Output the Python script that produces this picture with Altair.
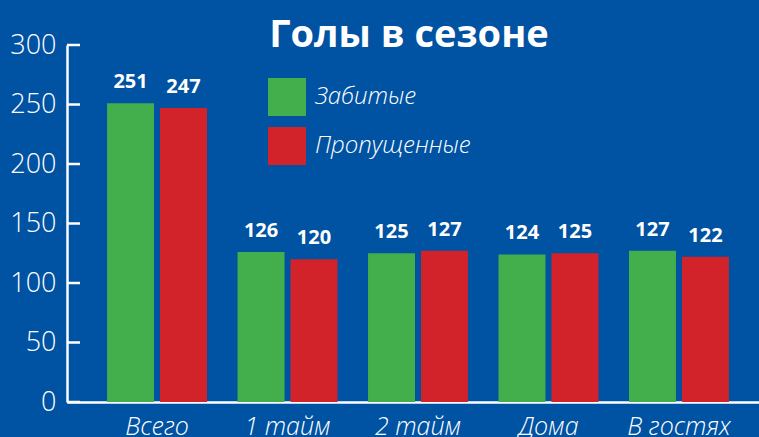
import altair as alt
import pandas as pd

categories = ["Всего", "1 тайм", "2 тайм", "Дома", "В гостях"]
series = ["Забитые", "Пропущенные"]
scored = [251, 126, 125, 124, 127]
conceded = [247, 120, 127, 125, 122]
y_ticks = [0, 50, 100, 150, 200, 250, 300]
colors = ["#43AE4C", "#D2232A"]
title_text = "Голы в сезоне"

rows = []
for c, s, k in zip(categories, scored, conceded):
    rows.append({"cat": c, "series": series[0], "value": s})
    rows.append({"cat": c, "series": series[1], "value": k})
df = pd.DataFrame(rows)
ticks_df = pd.DataFrame({"t": y_ticks})

FONT = "Open Sans"
WHITE = "#FFFFFF"

x_enc = alt.X(
    "cat:N",
    sort=categories,
    scale=alt.Scale(paddingInner=0.234, paddingOuter=0.307),
    axis=alt.Axis(
        title=None, labelAngle=0, labelColor=WHITE, labelFont=FONT,
        labelFontSize=25, labelFontStyle="italic", labelFontWeight=300,
        labelPadding=12, ticks=False, domainColor=WHITE, domainWidth=2.5,
        labelBaseline="top",
    ),
)
xoff_enc = alt.XOffset("series:N", sort=series,
                       scale=alt.Scale(paddingInner=0.113, paddingOuter=0))
y_enc = alt.Y(
    "value:Q",
    scale=alt.Scale(domain=[0, 300], nice=False),
    axis=alt.Axis(
        title=None, values=y_ticks, tickSize=0, labelPadding=11,
        labelColor=WHITE, labelFont=FONT, labelFontSize=27, labelFontWeight=300,
        domainColor=WHITE, domainWidth=2.5, grid=False,
    ),
)

base = alt.Chart(df)

bars = base.mark_bar().encode(
    x=x_enc,
    xOffset=xoff_enc,
    y=y_enc,
    color=alt.Color(
        "series:N",
        sort=series,
        scale=alt.Scale(domain=series, range=colors),
        legend=alt.Legend(
            title=None, orient="none", legendX=201, legendY=33,
            symbolType="square", symbolSize=1444, symbolStrokeWidth=0,
            symbolOpacity=1, labelColor=WHITE, labelFont=FONT,
            labelFontSize=24, labelFontStyle="italic", labelFontWeight=300,
            labelOffset=9, rowPadding=11,
        ),
    ),
)

labels = base.mark_text(
    dy=-15, baseline="alphabetic", font=FONT, fontWeight="bold",
    fontSize=20, color=WHITE,
).encode(
    x=alt.X("cat:N", sort=categories),
    xOffset=alt.XOffset("series:N", sort=series),
    y=alt.Y("value:Q"),
    text=alt.Text("value:Q"),
)

tick_marks = alt.Chart(ticks_df).mark_rule(color=WHITE, strokeWidth=2.5).encode(
    y=alt.Y("t:Q"),
    x=alt.value(0),
    x2=alt.value(13),
)

title = alt.Chart(pd.DataFrame({"t": [title_text]})).mark_text(
    font=FONT, fontWeight="bold", fontSize=38, color=WHITE,
    baseline="alphabetic", align="center",
).encode(
    text="t:N",
    x=alt.value(342),
    y=alt.value(2),
)

chart = alt.layer(bars, labels, tick_marks, title).properties(
    width=702,
    height=357,
    background="#0052A2",
    padding={"left": 67, "top": 45, "right": -10, "bottom": 35},
    autosize=alt.AutoSizeParams(type="none"),
).configure_view(stroke=None).resolve_scale(y="shared")

chart.save("out.html", embed_options={"renderer": "svg", "actions": False})
